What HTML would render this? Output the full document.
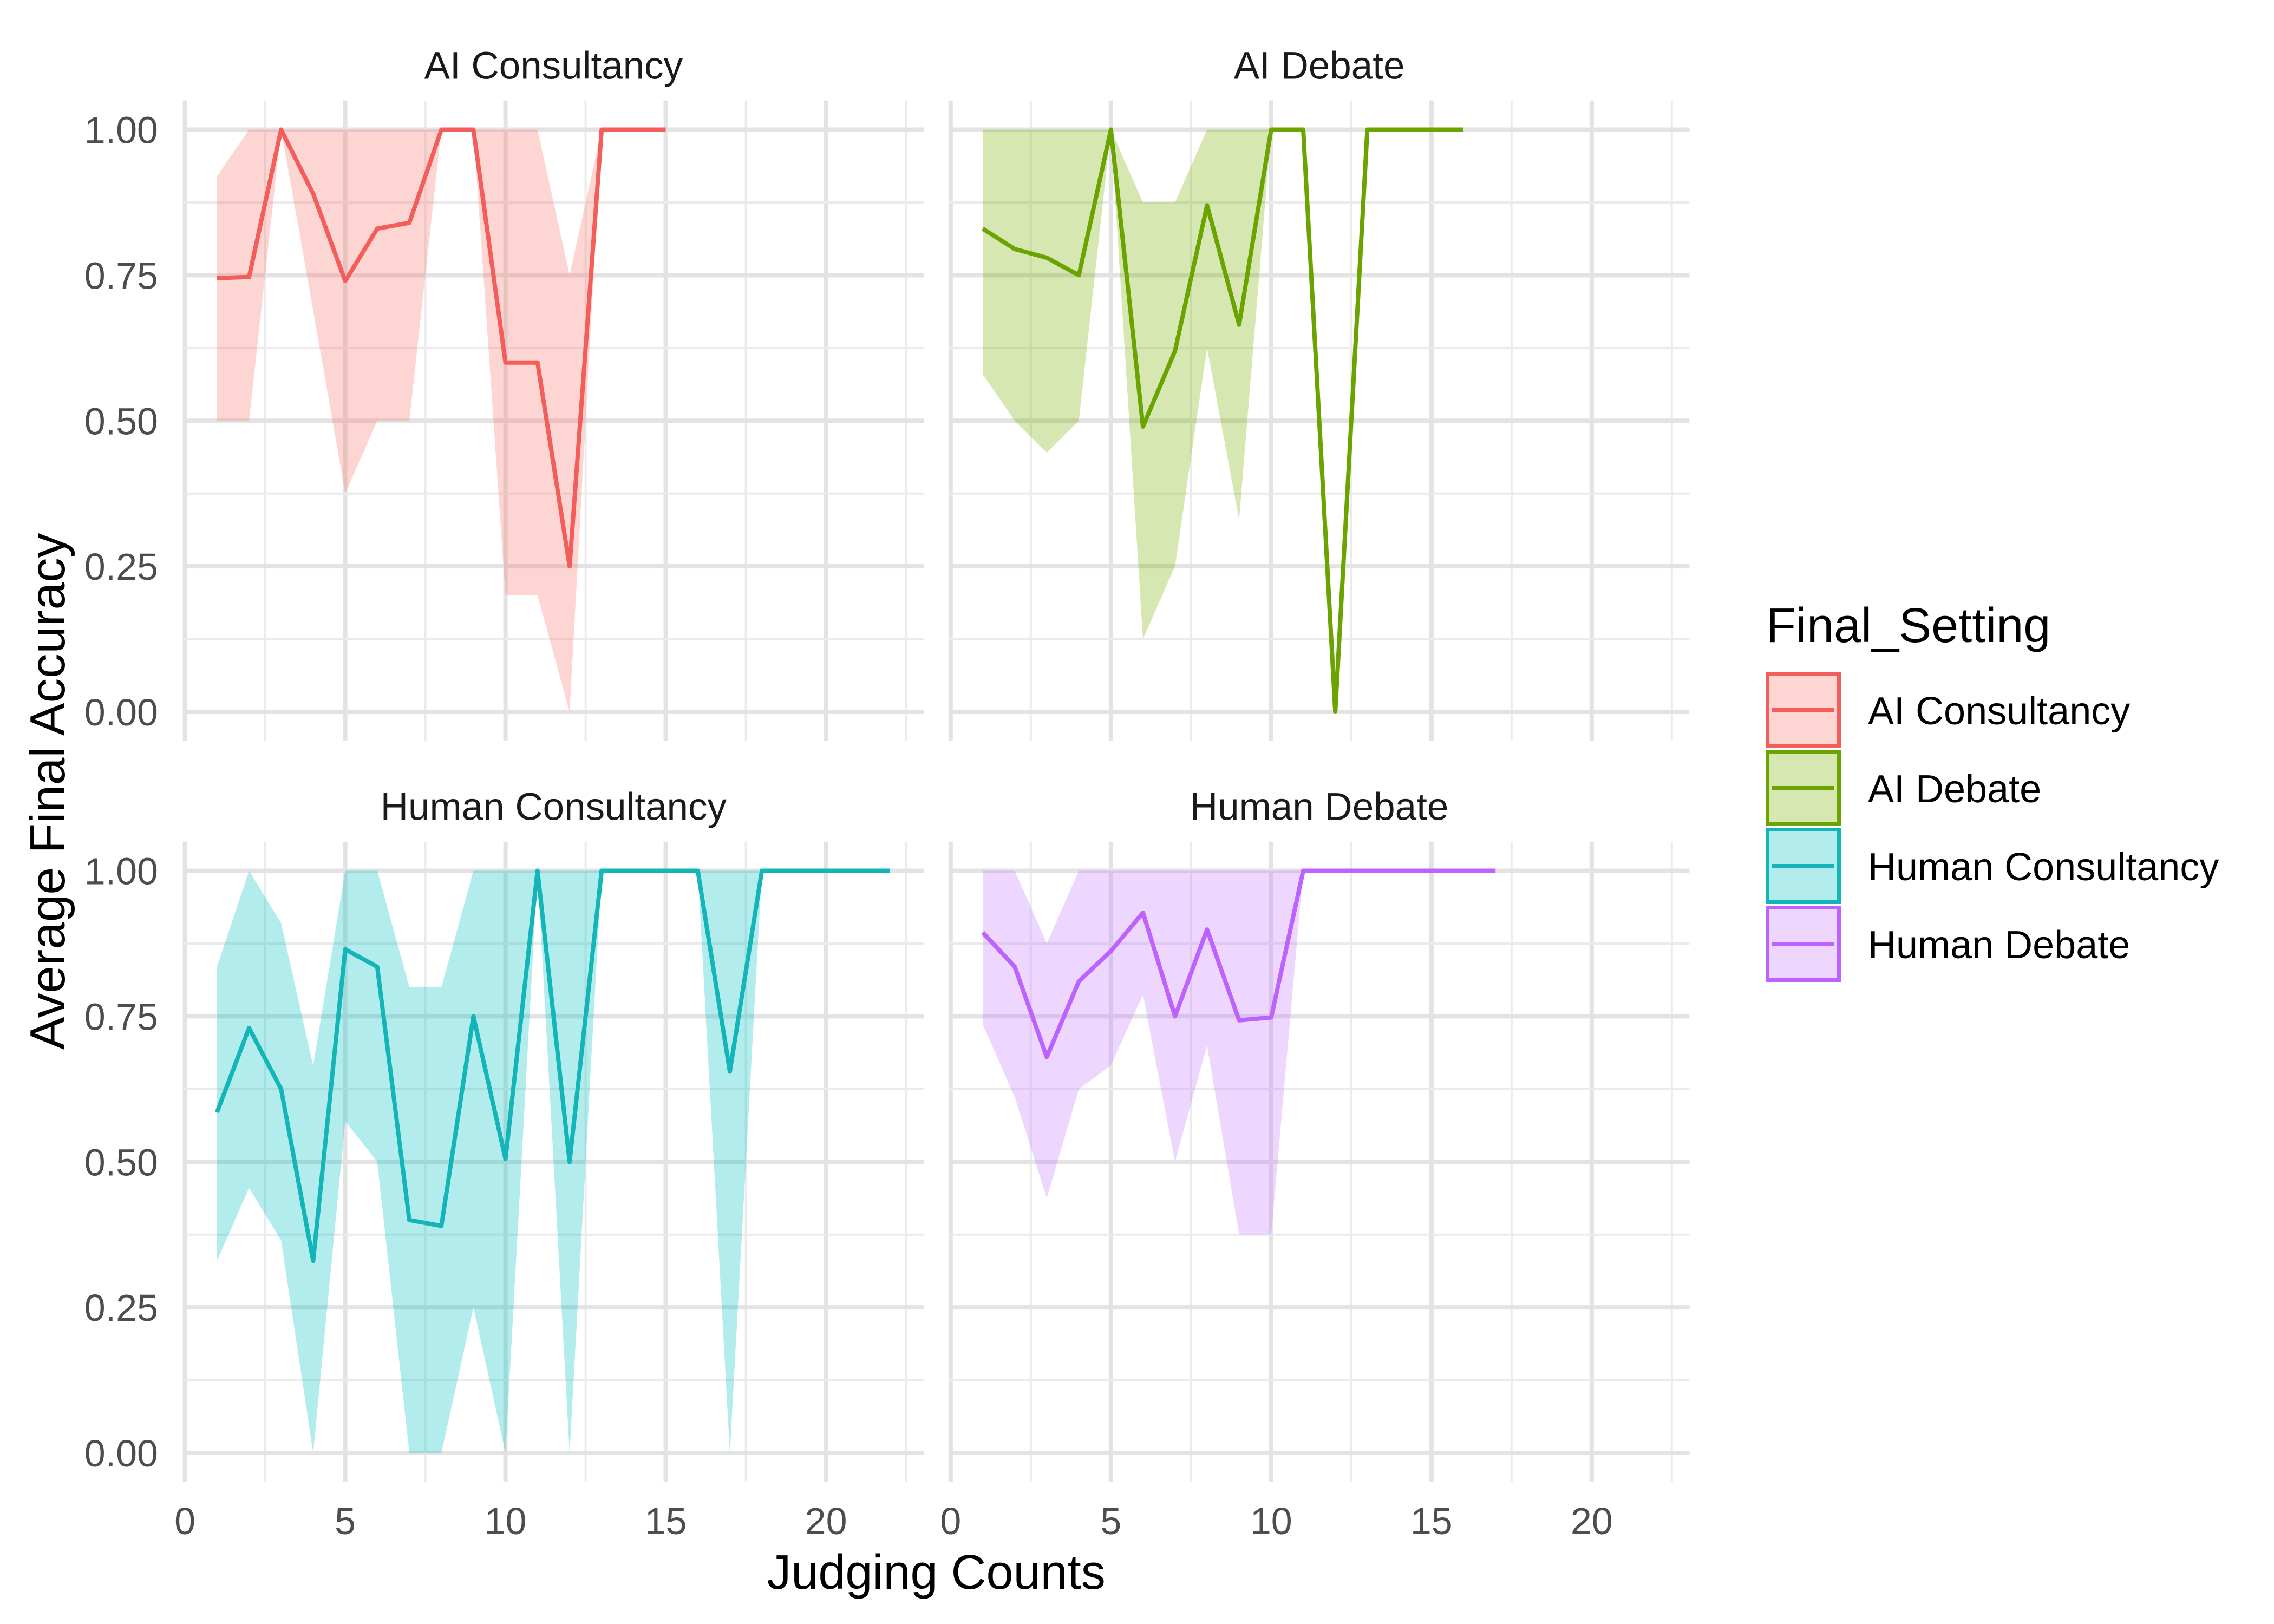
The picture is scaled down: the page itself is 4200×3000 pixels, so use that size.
<!DOCTYPE html>
<html><head><meta charset="utf-8"><style>
html,body{margin:0;padding:0;background:#fff}
svg{display:block}
text{font-family:"Liberation Sans",Arial,sans-serif}
</style></head><body>
<svg id="chart" xmlns="http://www.w3.org/2000/svg" width="4200" height="3000" viewBox="0 0 4200 3000">
<rect width="4200" height="3000" fill="#fff"/>
<g id="grid"></g>
<g id="marks"></g>
<g id="labels"></g>
</svg>
<script>
const panelNames = ["AI Consultancy","AI Debate","Human Consultancy","Human Debate"];
const colors = ["#F35E5A","#6BA300","#14B5B8","#BC62FF"];
const fillColors = ["#F8766D","#7CAE00","#00BFC4","#C77CFF"];
const aiConsX = [1,2,3,4,5,6,7,8,9,10,11,12,13,14,15];
const aiConsMean = [0.745,0.747,1.0,0.89,0.74,0.83,0.84,1.0,1.0,0.60,0.60,0.25,1.0,1.0,1.0];
const aiConsLow = [0.5,0.5,1.0,0.69,0.375,0.5,0.5,1.0,1.0,0.2,0.2,0.0,1.0,1.0,1.0];
const aiConsHigh = [0.92,1,1,1,1,1,1,1,1,1,1,0.75,1,1,1];
const aiDebX = [1,2,3,4,5,6,7,8,9,10,11,12,13,14,15,16];
const aiDebMean = [0.83,0.795,0.78,0.75,1.0,0.49,0.62,0.87,0.665,1,1,0,1,1,1,1];
const aiDebLow = [0.58,0.5,0.445,0.5,1,0.125,0.25,0.625,0.33,1,1,0,1,1,1,1];
const aiDebHigh = [1,1,1,1,1,0.875,0.875,1,1,1,1,0,1,1,1,1];
const huConsX = [1,2,3,4,5,6,7,8,9,10,11,12,13,14,15,16,17,18,19,20,21,22];
const huConsMean = [0.585,0.73,0.625,0.33,0.865,0.835,0.40,0.39,0.75,0.505,1,0.5,1,1,1,1,0.655,1,1,1,1,1];
const huConsLow = [0.33,0.455,0.365,0,0.57,0.5,0,0,0.25,0,1,0,1,1,1,1,0,1,1,1,1,1];
const huConsHigh = [0.835,1,0.91,0.665,1,1,0.8,0.8,1,1,1,1,1,1,1,1,1,1,1,1,1,1];
const huDebX = [1,2,3,4,5,6,7,8,9,10,11,12,13,14,15,16,17];
const huDebMean = [0.894,0.835,0.68,0.81,0.862,0.928,0.75,0.899,0.743,0.748,1,1,1,1,1,1,1];
const huDebLow = [0.736,0.611,0.4375,0.625,0.666,0.787,0.5,0.70,0.375,0.375,1,1,1,1,1,1,1];
const huDebHigh = [1,1,0.875,1,1,1,1,1,1,1,1,1,1,1,1,1,1];
const xTicks = [0,5,10,15,20];
const yTicks = [0,0.25,0.5,0.75,1.0];
const yTickLabels = ["0.00","0.25","0.50","0.75","1.00"];

const series = [
  [aiConsX,aiConsMean,aiConsLow,aiConsHigh],
  [aiDebX,aiDebMean,aiDebLow,aiDebHigh],
  [huConsX,huConsMean,huConsLow,huConsHigh],
  [huDebX,huDebMean,huDebLow,huDebHigh]
];
const NS="http://www.w3.org/2000/svg";
const X0=[341.6,1755.8], UX=59.2, Y0=[1315,2684], UY=1075.5;
function sx(c,v){return X0[c]+v*UX;}
function sy(r,v){return Y0[r]-v*UY;}
function mk(tag,attrs,parent){const e=document.createElementNS(NS,tag);for(const k in attrs)e.setAttribute(k,attrs[k]);parent.appendChild(e);return e;}
const grid=document.getElementById('grid'), marks=document.getElementById('marks'), labels=document.getElementById('labels');
for(let p=0;p<4;p++){
  const c=p%2, r=Math.floor(p/2);
  const xl=sx(c,-0.05), xr=sx(c,23.05), yt=sy(r,1.05), yb=sy(r,-0.05);
  for(let v=-0.0; v<=22.5; v+=2.5){
    const major = Math.abs(v%5)<1e-6;
    const l=mk('line',{x1:sx(c,v),x2:sx(c,v),y1:yt,y2:yb,stroke:major?'#e3e3e3':'#ebebeb','stroke-width':major?8:4},grid);
    
    
  }
  for(let v=0; v<=1.0001; v+=0.125){
    const major = Math.abs((v*4)-Math.round(v*4))<1e-6;
    const l=mk('line',{x1:xl,x2:xr,y1:sy(r,v),y2:sy(r,v),stroke:major?'#e3e3e3':'#ebebeb','stroke-width':major?8:4},grid);
    
    
  }
  const [xs,m,lo,hi]=series[p];
  let pts=[];
  for(let i=0;i<xs.length;i++)pts.push(sx(c,xs[i])+','+sy(r,hi[i]));
  for(let i=xs.length-1;i>=0;i--)pts.push(sx(c,xs[i])+','+sy(r,lo[i]));
  const rib=mk('polygon',{points:pts.join(' '),fill:fillColors[p],'fill-opacity':0.3},marks);
  
  
  const lp=xs.map((x,i)=>sx(c,x)+','+sy(r,m[i])).join(' ');
  const ln=mk('polyline',{points:lp,fill:'none',stroke:colors[p],'stroke-width':8,'stroke-linejoin':'round'},marks);
  
  
  const st=mk('text',{x:(xl+xr)/2,y:yt-40,'text-anchor':'middle','font-size':71,fill:'#1a1a1a'},labels);
  st.textContent=panelNames[p];
  
  
  if(c===0){
    yTicks.forEach((v,i)=>{
      const t=mk('text',{x:292,y:sy(r,v)+25,'text-anchor':'end','font-size':70,fill:'#4d4d4d'},labels);
      t.textContent=yTickLabels[i];
      
      
    });
  }
  if(r===1){
    xTicks.forEach(v=>{
      const t=mk('text',{x:sx(c,v),y:2834,'text-anchor':'middle','font-size':70,fill:'#4d4d4d'},labels);
      t.textContent=String(v);
      
      
    });
  }
}
const xt=mk('text',{x:1729,y:2935,'text-anchor':'middle','font-size':90,fill:'#000'},labels);
xt.textContent='Judging Counts';


const yt=mk('text',{x:0,y:0,transform:'translate(119,1462) rotate(-90)','text-anchor':'middle','font-size':91,fill:'#000'},labels);
yt.textContent='Average Final Accuracy';


const lt=mk('text',{x:3262,y:1186,'font-size':90,fill:'#000'},labels);
lt.textContent='Final_Setting';


for(let i=0;i<4;i++){
  const y=1241+i*144;
  const g=mk('g',{},labels);
  
  
  mk('rect',{x:3264.5,y:y+3.5,width:132,height:134,fill:fillColors[i],'fill-opacity':0.3,stroke:colors[i],'stroke-width':7},g);
  mk('line',{x1:3273,x2:3388,y1:y+70.5,y2:y+70.5,stroke:colors[i],'stroke-width':7},g);
  const t=mk('text',{x:3450,y:y+97,'font-size':72,fill:'#000'},g);
  t.textContent=panelNames[i];
}
</script>
</body></html>
